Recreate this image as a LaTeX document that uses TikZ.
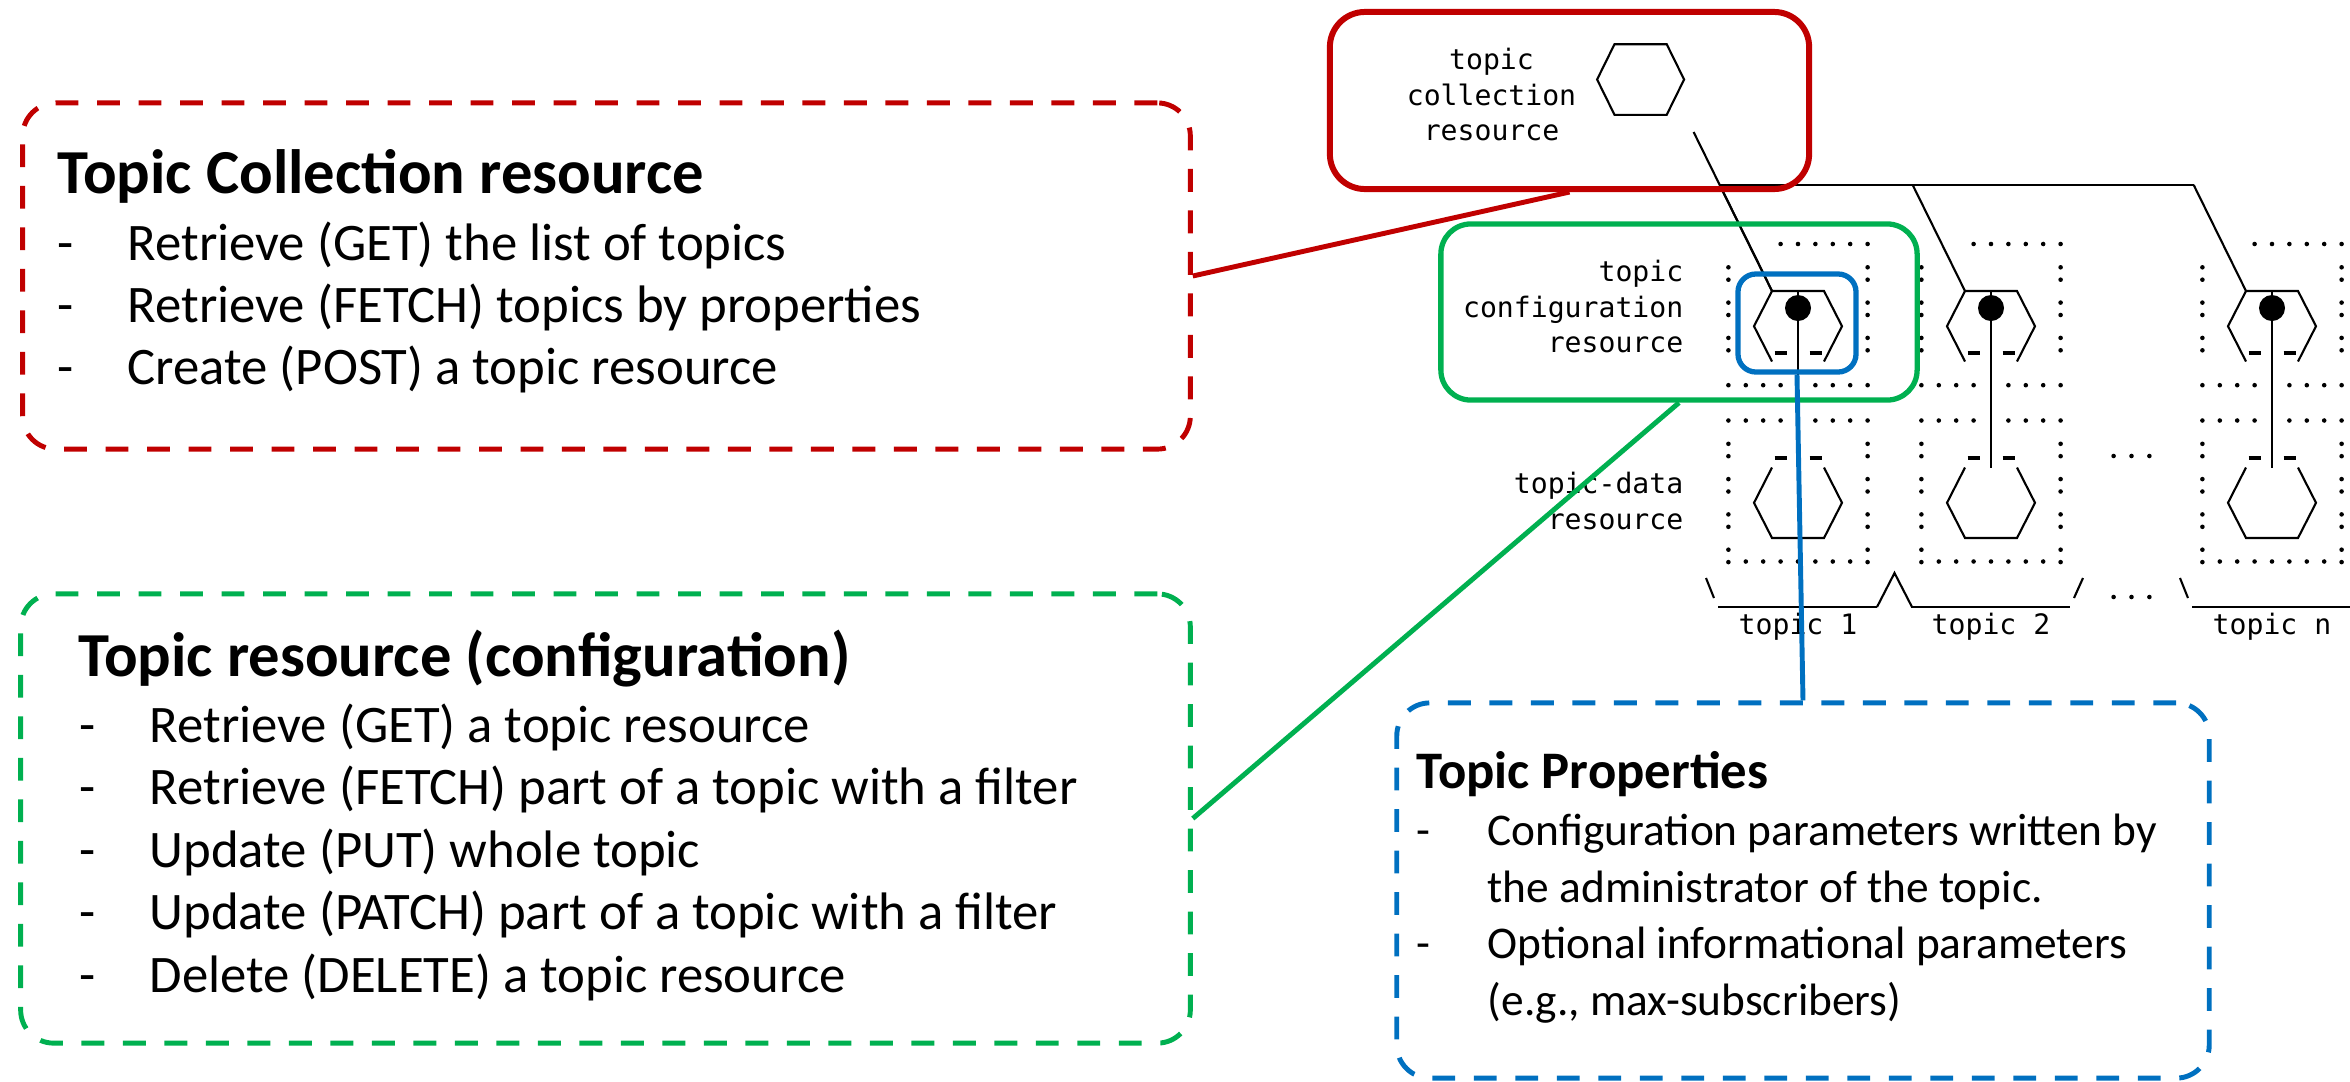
\documentclass[tikz,border=0pt]{standalone}
\usepackage{fontspec}
\setmainfont{Carlito}
\newfontfamily\asciimono{DejaVu Sans Mono}
\definecolor{tcred}{HTML}{C00000}
\definecolor{tcgreen}{HTML}{00B050}
\definecolor{tcblue}{HTML}{0070C0}
\tikzset{
  callout/.style={rectangle, rounded corners=0.33cm, line width=1.4pt,
    dash pattern=on 6.5pt off 5.3pt, inner sep=0pt},
  marker/.style={rectangle, line width=1.5pt, inner sep=0pt},
  link/.style={line width=1.4pt},
  art/.style={line width=0.6pt},
  mono/.style={font=\asciimono\fontsize{8}{10}\selectfont, inner sep=0pt},
  headline/.style={font=\bfseries\fontsize{17.8}{21}\selectfont, anchor=base west, inner sep=0pt},
  item/.style={font=\fontsize{15}{18}\selectfont, anchor=base west, inner sep=0pt},
  smallitem/.style={font=\fontsize{12.9}{15}\selectfont, anchor=base west, inner sep=0pt},
}
\begin{document}
\begin{tikzpicture}[x=0.01cm, y=-0.01cm]
    \useasboundingbox (0,0) rectangle (2350,1081);

    % resource tree, left labels
    \node[mono, anchor=base] (collA) at (1491.5,69.5) {topic};
    \node[mono, anchor=base] (collB) at (1491.5,105) {collection};
    \node[mono, anchor=base] (collC) at (1491.5,140) {resource};
    \node[mono, anchor=base east] (cfgA) at (1684,281.5) {topic};
    \node[mono, anchor=base east] (cfgB) at (1684,317) {configuration};
    \node[mono, anchor=base east] (cfgC) at (1684,352.5) {resource};
    \node[mono, anchor=base east] (dataA) at (1684,493.5) {topic-data};
    \node[mono, anchor=base east] (dataB) at (1684,529) {resource};

    \draw[art] (1614.5,44.2) -- (1666.7,44.2) -- (1684.1,79.5) -- (1666.7,114.8)
        -- (1614.5,114.8) -- (1597.1,79.5) -- cycle;
    \draw[art] (1693.6,132) -- (1772,291);
    \draw[art] (1719.7,185) -- (2193.7,185);

    \foreach \cx/\lbl in {1798/1, 1991/2, 2272/n} {
        % dotted frames
        \foreach \k in {-1,...,4}
            \fill ({\cx+\k*17.4},244) circle[radius=0.65pt];
        \foreach \k in {-4,-3,-2,-1,1,2,3,4} {
            \fill ({\cx+\k*17.4},385.2) circle[radius=0.65pt];
            \fill ({\cx+\k*17.4},420.5) circle[radius=0.65pt];
        }
        \foreach \k in {-3,...,3}
            \fill ({\cx+\k*17.4},561.5) circle[radius=0.65pt];
        \foreach \r in {1,2,3,6,7,8,9}
            \foreach \s in {-1,1} {
                \fill ({\cx+\s*69.6},{232+\r*35.3}) circle[radius=0.65pt];
                \fill ({\cx+\s*69.6},{244.4+\r*35.3}) circle[radius=0.65pt];
            }
        % configuration and data hexagons
        \draw[art] ({\cx-78.3},185) -- ({\cx-26},291);
        \draw[art] ({\cx-26},361.5) -- ({\cx-44},326.2) -- ({\cx-26},291)
            -- ({\cx+26},291) -- ({\cx+44},326.2) -- ({\cx+26},361.5);
        \draw[art, line width=0.9pt] ({\cx-23.5},353) -- ({\cx-11.5},353) ({\cx+11.5},353) -- ({\cx+23.5},353);
        \fill ({\cx},308) circle[radius=0.13cm];
        \draw[art] ({\cx},291) -- ({\cx},467.5);
        \draw[art, line width=0.9pt] ({\cx-23.5},458) -- ({\cx-11.5},458) ({\cx+11.5},458) -- ({\cx+23.5},458);
        \draw[art] ({\cx-26},467.5) -- ({\cx-44},502.8) -- ({\cx-26},538)
            -- ({\cx+26},538) -- ({\cx+44},502.8) -- ({\cx+26},467.5);
        \draw[art] ({\cx-80},607) -- ({\cx+79},607);
        \node[mono, anchor=base] (topic\lbl) at (\cx,634) {topic \lbl};
    }
    \draw[art] (1706,578) -- (1714,598);
    \draw[art] (1877,607) -- (1894.5,573) -- (1912,607);
    \draw[art] (2074,598) -- (2083,578);
    \draw[art] (2180,578) -- (2188,598);
    \foreach \x in {2113.6,2131.5,2149.4} {
        \fill (\x,456) circle[radius=0.65pt];
        \fill (\x,597) circle[radius=0.65pt];
    }

    % highlight frames on the tree
    \node[marker, rounded corners=0.35cm, draw=tcred, line width=1.7pt,
    minimum width=4.79cm,
    minimum height=1.77cm] (tcmark) at (1569.5,100.5) {};
    \node[marker, rounded corners=0.3cm, draw=tcgreen,
    minimum width=4.76cm,
    minimum height=1.76cm] (trmark) at (1679,312) {};
    \node[marker, rounded corners=0.18cm, draw=tcblue,
    minimum width=1.18cm,
    minimum height=0.98cm] (tpmark) at (1797,323) {};

    % explanation boxes
    \node[callout, draw=tcred,
    minimum width=11.67cm,
    minimum height=3.46cm] (tcnote) at (606.5,276) {};
    \node[headline] (tchead) at (57,193) {Topic Collection resource};
    \foreach \y/\txt in {260/{Retrieve (GET) the list of topics},
                        322/{Retrieve (FETCH) topics by properties},
                        384/{Create (POST) a topic resource}} {
        \node[item] at (57,\y) {-};
        \node[item] at (127,\y) {\txt};
    }

    \node[callout, draw=tcgreen,
    minimum width=11.69cm,
    minimum height=4.49cm] (trnote) at (605.5,818.5) {};
    \node[headline] (trhead) at (78,676) {Topic resource (configuration)};
    \foreach \y/\txt in {742/{Retrieve (GET) a topic resource},
                        804.5/{Retrieve (FETCH) part of a topic with a filter},
                        867/{Update (PUT) whole topic},
                        929.5/{Update (PATCH) part of a topic with a filter},
                        992/{Delete (DELETE) a topic resource}} {
        \node[item] at (79,\y) {-};
        \node[item] at (149,\y) {\txt};
    }

    \node[callout, draw=tcblue,
    minimum width=8.12cm,
    minimum height=3.75cm] (tpnote) at (1803,890.5) {};
    \node[headline, font=\bfseries\fontsize{15}{18}\selectfont] (tphead) at (1416,788) {Topic Properties};
    \foreach \y/\txt in {845/{Configuration parameters written by},
                        902/{the administrator of the topic.},
                        958/{Optional informational parameters},
                        1015/{(e.g., max-subscribers)}} {
        \node[smallitem] at (1487,\y) {\txt};
    }
    \node[smallitem] at (1416,845) {-};
    \node[smallitem] at (1416,958) {-};

    % connectors
    \draw[link, color=tcred] (tcnote.east) -- (tcmark.south);
    \draw[link, color=tcgreen] (trnote.east) -- (trmark.south);
    \draw[link, color=tcblue] (tpmark.south) -- (tpnote.north);

\end{tikzpicture}
\end{document}
